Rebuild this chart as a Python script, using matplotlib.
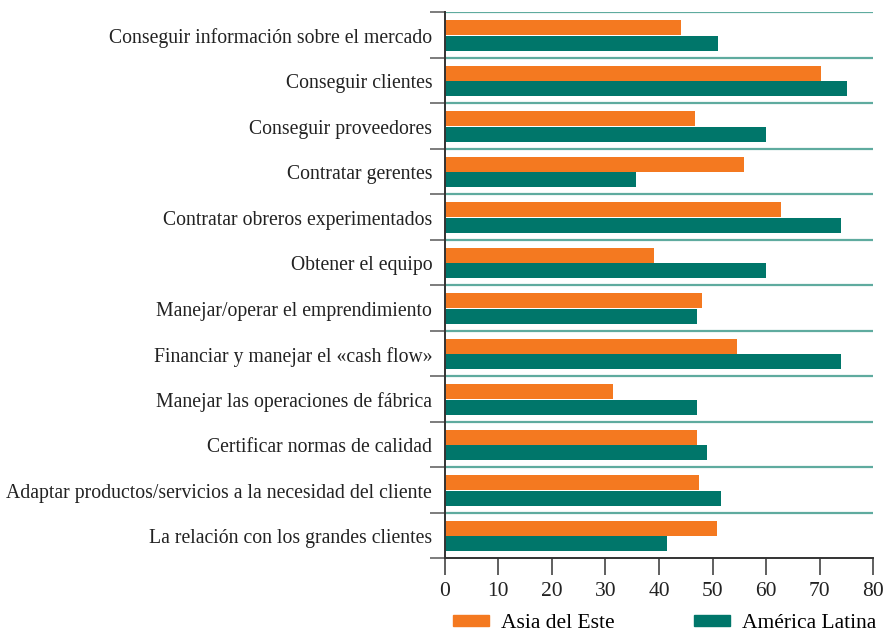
import matplotlib.pyplot as plt
from matplotlib.patches import Patch
import numpy as np

categorias = [
    "Conseguir información sobre el mercado",
    "Conseguir clientes",
    "Conseguir proveedores",
    "Contratar gerentes",
    "Contratar obreros experimentados",
    "Obtener el equipo",
    "Manejar/operar el emprendimiento",
    "Financiar y manejar el «cash flow»",
    "Manejar las operaciones de fábrica",
    "Certificar normas de calidad",
    "Adaptar productos/servicios a la necesidad del cliente",
    "La relación con los grandes clientes",
]
asia = [44.1, 70.3, 46.7, 55.9, 62.8, 39.1, 48.0, 54.6, 31.4, 47.1, 47.5, 50.8]
america = [51.0, 75.0, 60.0, 35.7, 74.0, 60.0, 47.1, 74.0, 47.1, 49.0, 51.6, 41.5]
xticks = [0, 10, 20, 30, 40, 50, 60, 70, 80]

naranja = "#F47920"
verde = "#00766A"

plt.rcParams['font.family'] = ['Liberation Serif', 'DejaVu Serif']

fig = plt.figure(figsize=(8.84, 6.35), dpi=100)
ax = fig.add_axes([0.503, 0.121, 0.485, 0.860])

y = np.arange(len(categorias))
ax.barh(y + 0.34, asia, height=0.33, color=naranja)
ax.barh(y + 0.68, america, height=0.33, color=verde)

# separadores entre categorias
for b in range(len(categorias)):
    ax.axhline(b, color="#5fab9f", lw=1.6, zorder=0)

ax.set_xlim(0, 80)
ax.set_ylim(len(categorias), 0)
ax.set_xticks(xticks)
ax.set_yticks(np.arange(len(categorias) + 1))
ax.set_yticklabels([])
ax.set_yticks(y + 0.52, minor=True)
ax.set_yticklabels(categorias, minor=True)
ax.tick_params(axis='y', which='major', length=11, width=1.2, color="#666666")
ax.tick_params(axis='y', which='minor', length=0, pad=9, labelsize=14.2, labelcolor="#222222")
ax.tick_params(axis='x', length=12, width=1.2, pad=5, labelsize=15.5, labelcolor="#222222", color="#444444")

for s in ['top', 'right']:
    ax.spines[s].set_visible(False)
ax.spines['left'].set_linewidth(1.4)
ax.spines['bottom'].set_linewidth(1.4)
ax.spines['left'].set_color("#333333")
ax.spines['bottom'].set_color("#333333")

handles = [Patch(color=naranja, label="Asia del Este"), Patch(color=verde, label="América Latina")]
fig.legend(handles=handles, loc='center', bbox_to_anchor=(0.752, 0.018), ncol=2, frameon=False,
           fontsize=15.5, handlelength=1.67, handleheight=0.42, handletextpad=0.56, columnspacing=3.7,
           borderpad=0.1)

fig.savefig("out.png", dpi=100)
